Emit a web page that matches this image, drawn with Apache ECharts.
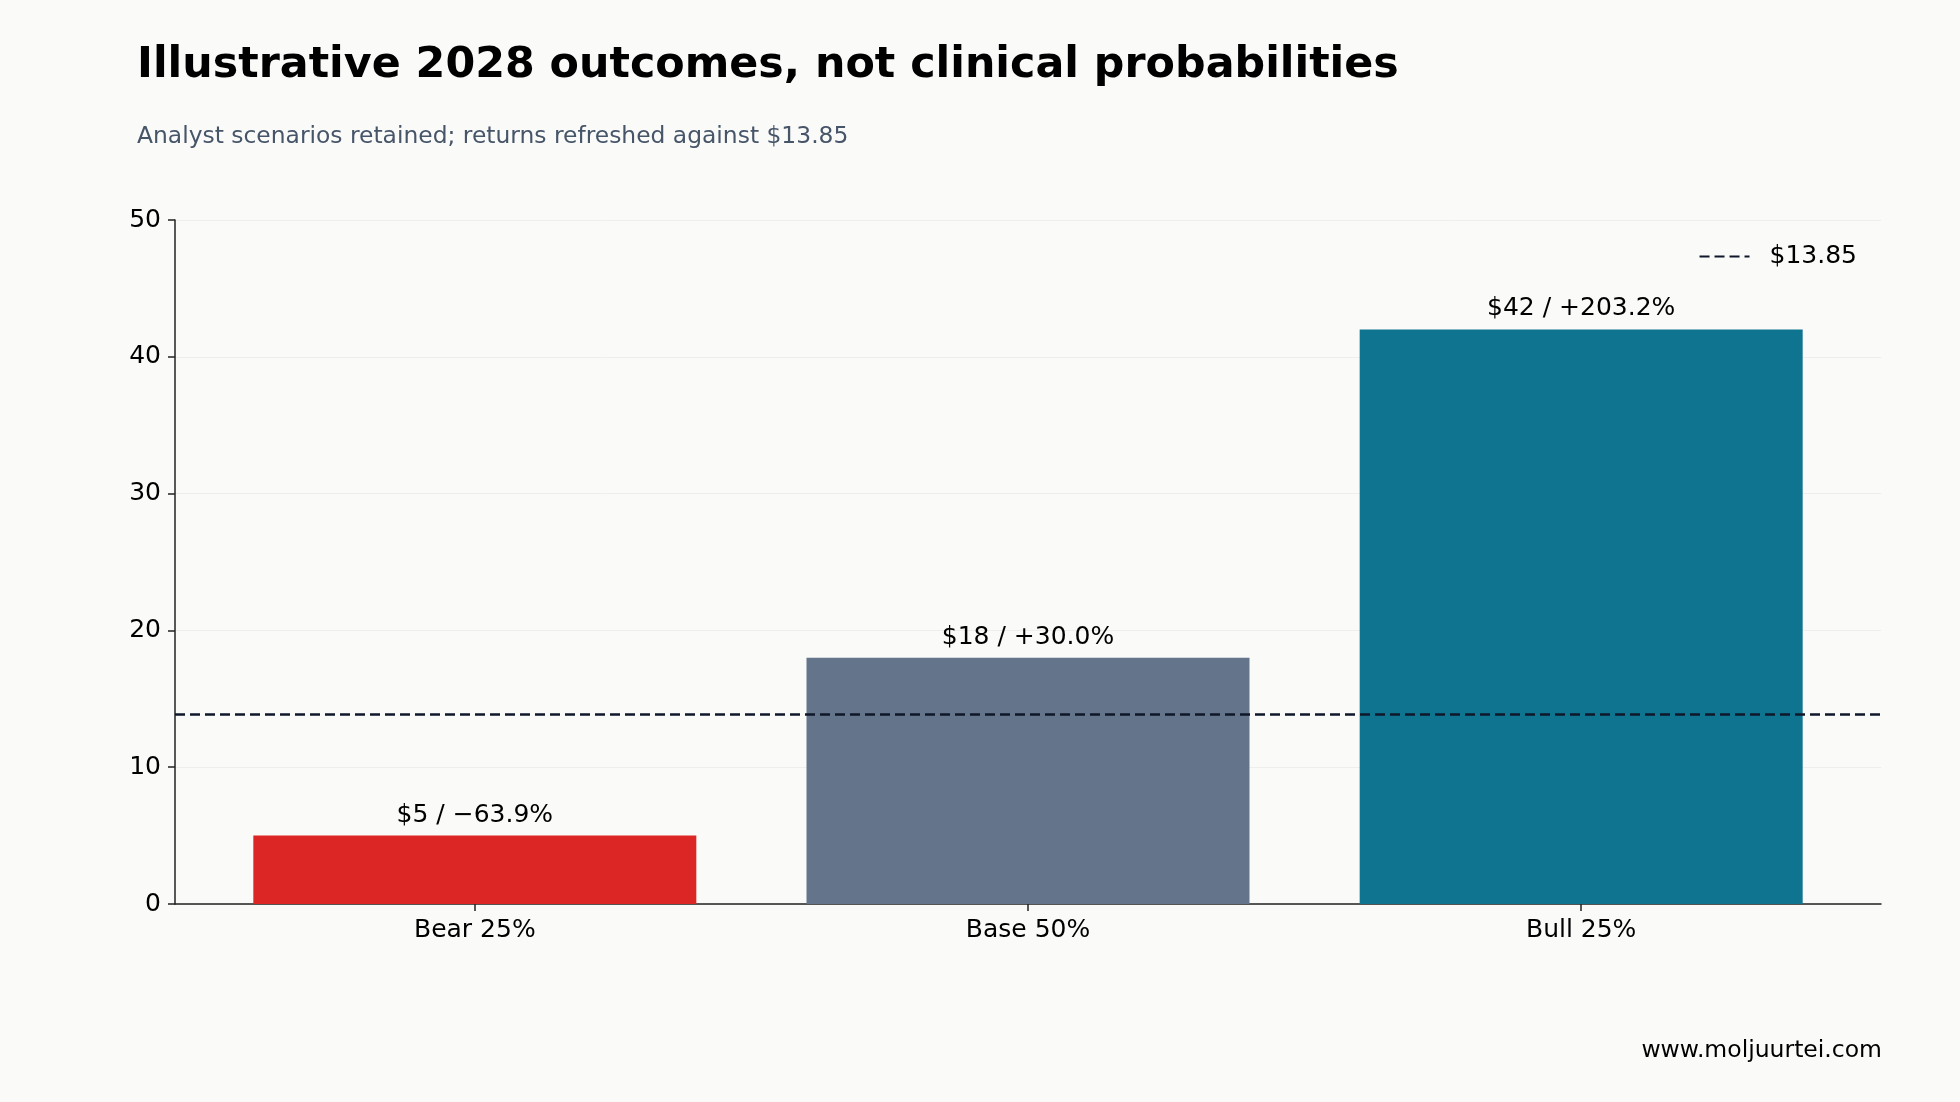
<!DOCTYPE html>
<html>
<head>
<meta charset="utf-8">
<script src="https://cdn.jsdelivr.net/npm/echarts@6/dist/echarts.min.js"></script>
<style>
  html, body { margin: 0; padding: 0; background: #fafaf9; }
  #chart { width: 1960px; height: 1102px; }
</style>
</head>
<body>
<div id="chart"></div>
<script>
var scenarios = ['Bear 25%', 'Base 50%', 'Bull 25%'];
var targets = [5, 18, 42];
var returnLabels = ['\u221263.9%', '+30.0%', '+203.2%'];
var barColors = ['#dc2626', '#64748b', '#0e7490'];
var currentPrice = 13.85;
var xRange = [-0.542, 2.542];

var FONT = 'DejaVu Sans';

var barData = targets.map(function (v, i) {
    return {
        value: [i, v],
        itemStyle: { color: barColors[i] },
        label: { formatter: '$' + v + ' / ' + returnLabels[i] }
    };
});

var chart = echarts.init(document.getElementById('chart'));
var op = {
    backgroundColor: '#fafaf9',
    animation: false,
    title: [
        {
            text: 'Illustrative 2028 outcomes, not clinical probabilities',
            left: 132,
            top: 39,
            textStyle: { fontFamily: FONT, fontWeight: 'bold', fontSize: 42.8, color: '#000' }
        },
        {
            text: 'Analyst scenarios retained; returns refreshed against $13.85',
            left: 132,
            top: 120,
            textStyle: { fontFamily: FONT, fontWeight: 'normal', fontSize: 23.4, color: '#475569' }
        },
        {
            text: 'www.moljuurtei.com',
            right: 73,
            top: 1034,
            textStyle: { fontFamily: FONT, fontWeight: 'normal', fontSize: 23.5, color: '#000' }
        }
    ],
    legend: {
        right: 98,
        top: 239,
        itemWidth: 50,
        itemHeight: 14,
        itemStyle: { color: 'rgba(0,0,0,0)', borderWidth: 0 },
        textStyle: { fontFamily: FONT, fontSize: 25, color: '#000', padding: [0, 0, 0, 15] },
        data: ['$' + currentPrice]
    },
    grid: { left: 175, right: 79, top: 220, bottom: 198 },
    xAxis: {
        type: 'value',
        min: xRange[0],
        max: xRange[1],
        axisLine: { show: true, lineStyle: { color: '#222', width: 1.5 } },
        axisTick: { show: true, customValues: [0, 1, 2], length: 7, lineStyle: { color: '#222', width: 1.5 } },
        axisLabel: {
            customValues: [0, 1, 2],
            margin: 14,
            fontFamily: FONT,
            fontSize: 25,
            color: '#000',
            formatter: function (v) { return scenarios[Math.round(v)]; }
        },
        splitLine: { show: false }
    },
    yAxis: {
        type: 'value',
        min: 0,
        max: 50,
        interval: 10,
        axisLine: { show: true, onZero: false, lineStyle: { color: '#222', width: 1.5 } },
        axisTick: { show: true, length: 7, lineStyle: { color: '#222', width: 1.5 } },
        axisLabel: { margin: 14, fontFamily: FONT, fontSize: 25, color: '#000', padding: [2, 0, 0, 0] },
        splitLine: { show: true, lineStyle: { color: '#eeeeec', width: 1 } }
    },
    series: [
        {
            type: 'bar',
            barWidth: 443,
            data: barData,
            label: {
                show: true,
                position: 'top',
                distance: 8,
                fontFamily: FONT,
                fontSize: 25,
                color: '#000'
            }
        },
        {
            name: '$' + currentPrice,
            type: 'line',
            symbol: 'none',
            data: [[xRange[0], currentPrice], [xRange[1], currentPrice]],
            lineStyle: { color: '#0f172a', width: 2.5, type: [10, 5] },
            itemStyle: { color: '#0f172a' },
            z: 5
        }
    ]
};
chart.setOption(op);
</script>
</body>
</html>
